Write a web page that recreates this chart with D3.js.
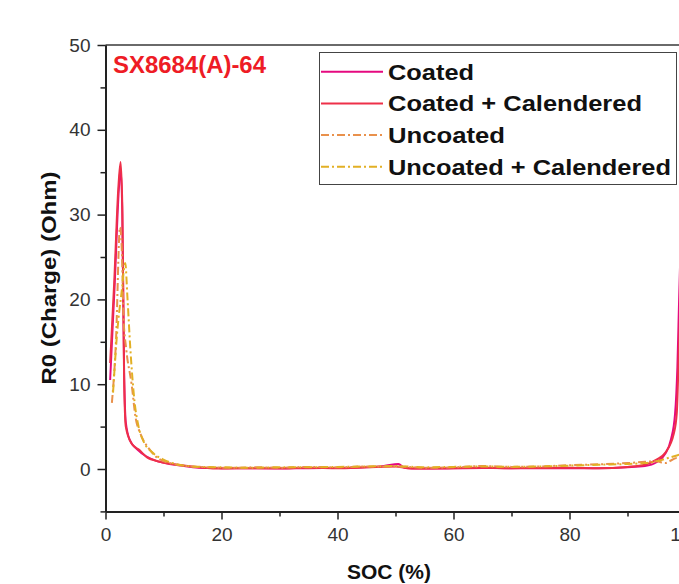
<!DOCTYPE html>
<html>
<head>
<meta charset="utf-8">
<script src="https://cdn.jsdelivr.net/npm/d3@7.9.0/dist/d3.min.js"></script>
<style>
  body { margin: 0; background: #fff; }
  svg { display: block; font-family: "Liberation Sans", Arial, sans-serif; }
  .tick text { fill: #333; }
</style>
</head>
<body>
<svg width="679" height="584"></svg>
<script>
// 1. Data: [SOC %, R0 Ohm]
const coated = [
  [0.8, 10.5], [1.6, 22], [2.3, 33], [2.6, 35.5], [2.9, 30], [3.2, 12], [3.5, 5.5],
  [4.2, 3.4], [5.5, 2.3], [7, 1.5], [9, 0.9], [11, 0.6], [13, 0.4], [16, 0.15],
  [20, 0.1], [25, 0.08], [30, 0.05], [35, 0.1], [40, 0.12], [45, 0.2], [48, 0.35],
  [50.5, 0.6], [51.5, 0.15], [54, 0.05], [60, 0.08], [65, 0.12], [70, 0.1], [75, 0.08],
  [80, 0.1], [85, 0.1], [90, 0.2], [93, 0.35], [95, 0.8], [96.5, 1.8], [97.5, 3.5],
  [98.2, 6.5], [98.6, 12], [98.9, 20], [99.3, 30]
];
const coatedCal = [
  [0.8, 12.5], [1.5, 22], [2.2, 33], [2.6, 36.2], [2.9, 31], [3.2, 11], [3.5, 5],
  [4.5, 3], [5.9, 2.2], [7.1, 1.4], [9.4, 0.86], [12.8, 0.47], [16.3, 0.2], [20, 0.05],
  [25, 0.1], [30, 0.08], [35, 0.15], [40, 0.1], [45, 0.2], [50, 0.3], [52, 0.1],
  [55, 0.05], [60, 0.1], [65, 0.15], [70, 0.1], [75, 0.12], [80, 0.15], [85, 0.1],
  [90, 0.25], [93, 0.5], [95, 1.1], [96.5, 1.9], [98, 4.2], [98.5, 6.6], [98.9, 15],
  [99.4, 25]
];
const uncoated = [
  [1.1, 7.8], [1.8, 15], [2.5, 28.5], [2.8, 26], [3.1, 18], [3.6, 14], [4.5, 10],
  [5.2, 6], [6, 4.2], [7.5, 2.4], [8.8, 1.4], [11.6, 0.6], [14, 0.35], [18, 0.2],
  [22, 0.15], [26, 0.2], [30, 0.15], [35, 0.25], [40, 0.2], [45, 0.3], [50, 0.3],
  [55, 0.15], [60, 0.2], [65, 0.35], [70, 0.25], [75, 0.3], [80, 0.45], [85, 0.55],
  [90, 0.7], [93, 0.85], [95, 0.9], [96.5, 0.7], [97.5, 1.0], [98.5, 1.3], [99.5, 1.2]
];
const uncoatedCal = [
  [1.3, 9], [2, 16], [2.8, 21], [3.4, 24.3], [3.8, 20], [4.3, 14], [5, 8], [5.7, 5],
  [6.6, 3.2], [8, 2], [10, 1.1], [12, 0.6], [15, 0.3], [20, 0.2], [25, 0.15],
  [30, 0.2], [35, 0.2], [40, 0.25], [45, 0.3], [50, 0.35], [55, 0.2], [60, 0.25],
  [65, 0.3], [70, 0.25], [75, 0.3], [80, 0.4], [85, 0.5], [90, 0.6], [93, 0.7],
  [95, 0.9], [97, 1.3], [98.5, 1.6], [99.5, 1.8]
];

const seriesNames = ['Coated', 'Coated + Calendered', 'Uncoated', 'Uncoated + Calendered'];
const seriesValues = [coated, coatedCal, uncoated, uncoatedCal];
const seriesColors = ['#e5097f', '#ee3049', '#e9914c', '#e2b025'];
const seriesDash = [null, null, '8,3,2,3', '8,3,2,3'];

const xTicks = [0, 20, 40, 60, 80, 100];
const xMinor = [10, 30, 50, 70, 90];
const yTicks = [0, 10, 20, 30, 40, 50];
const yMinor = [-5, 5, 15, 25, 35, 45];

// 2. Scales
const svg = d3.select('svg');
let x = d3.scaleLinear().domain([0, 100]).range([105.5, 685.5]);
let y = d3.scaleLinear().domain([-5, 50]).range([511.4, 45]);

svg.append('clipPath').attr('id', 'plot')
  .append('rect')
  .attr('x', x(0)).attr('y', y(50))
  .attr('width', x(100) - x(0)).attr('height', y(-5) - y(50));

// top frame
svg.append('line')
  .attr('x1', x(0)).attr('x2', x(100))
  .attr('y1', y(50)).attr('y2', y(50))
  .attr('stroke', '#6a6a6a').attr('stroke-width', 2);

// 3. Lines
let line = d3.line()
  .x((d) => x(d[0]))
  .y((d) => y(d[1]))
  .curve(d3.curveMonotoneX);

let plot = svg.append('g').attr('clip-path', 'url(#plot)');
seriesValues.forEach((vals, i) => {
  plot.append('path')
    .attr('d', line(vals))
    .attr('fill', 'none')
    .attr('stroke', seriesColors[i])
    .attr('stroke-width', 2)
    .attr('stroke-dasharray', seriesDash[i]);
});

// 4. Axes (major + minor ticks)
function styleAxis(g) {
  g.select('.domain').attr('stroke', '#222').attr('stroke-width', 2);
  g.selectAll('.tick line').attr('stroke', '#222').attr('stroke-width', 1.5);
  g.selectAll('.tick text').attr('font-size', 19);
}

svg.append('g')
  .attr('transform', `translate(0,${y(-5)})`)
  .call(d3.axisBottom(x).tickValues(xTicks).tickSize(8).tickPadding(8).tickSizeOuter(0))
  .call(styleAxis);
svg.append('g')
  .attr('transform', `translate(0,${y(-5)})`)
  .call(d3.axisBottom(x).tickValues(xMinor).tickSize(5).tickFormat('').tickSizeOuter(0))
  .call(styleAxis);

svg.append('g')
  .attr('transform', `translate(${x(0)},0)`)
  .call(d3.axisLeft(y).tickValues(yTicks).tickSize(8).tickPadding(7).tickSizeOuter(0))
  .call(styleAxis);
svg.append('g')
  .attr('transform', `translate(${x(0)},0)`)
  .call(d3.axisLeft(y).tickValues(yMinor).tickSize(5).tickFormat('').tickSizeOuter(0))
  .call(styleAxis);

// 5. Axis titles
svg.append('text')
  .attr('x', 389).attr('y', 579)
  .attr('text-anchor', 'middle')
  .attr('font-size', 21).attr('font-weight', 'bold').attr('fill', '#111')
  .text('SOC (%)');

svg.append('text')
  .attr('transform', 'translate(56,278) rotate(-90)')
  .attr('text-anchor', 'middle')
  .attr('font-size', 21).attr('font-weight', 'bold').attr('fill', '#111')
  .attr('textLength', 213).attr('lengthAdjust', 'spacingAndGlyphs')
  .text('R0 (Charge) (Ohm)');

// sample label
svg.append('text')
  .attr('x', 113).attr('y', 73)
  .attr('font-size', 24).attr('font-weight', 'bold').attr('fill', '#ee1c25')
  .attr('textLength', 153).attr('lengthAdjust', 'spacingAndGlyphs')
  .text('SX8684(A)-64');

// 6. Legend
let legend = svg.append('g');
legend.append('rect')
  .attr('x', 319.5).attr('y', 52.5)
  .attr('width', 357).attr('height', 132)
  .attr('fill', '#fff').attr('stroke', '#444').attr('stroke-width', 1);

const legendWidths = [86, 254, 117, 283];
seriesNames.forEach((name, i) => {
  let cy = 71.7 + i * 31.7;
  legend.append('line')
    .attr('x1', 321).attr('x2', 383)
    .attr('y1', cy).attr('y2', cy)
    .attr('stroke', seriesColors[i]).attr('stroke-width', 2)
    .attr('stroke-dasharray', seriesDash[i]);
  legend.append('text')
    .attr('x', 388).attr('y', cy + 7.8)
    .attr('font-size', 22).attr('font-weight', 'bold').attr('fill', '#111')
    .attr('textLength', legendWidths[i]).attr('lengthAdjust', 'spacingAndGlyphs')
    .text(name);
});
</script>
</body>
</html>
